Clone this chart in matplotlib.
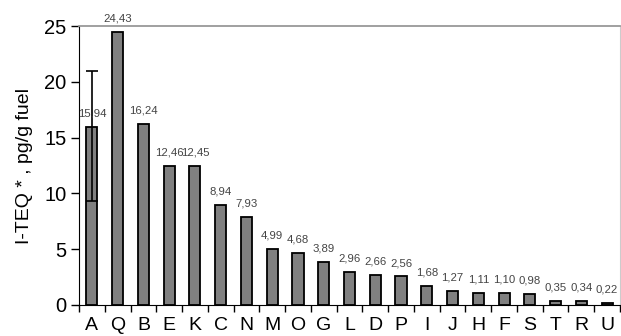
import matplotlib
matplotlib.use("Agg")
import matplotlib.pyplot as plt
import numpy as np

categories = ["A","Q","B","E","K","C","N","M","O","G","L","D","P","I","J","H","F","S","T","R","U"]
values = [15.94,24.43,16.24,12.46,12.45,8.94,7.93,4.99,4.68,3.89,2.96,2.66,2.56,1.68,1.27,1.11,1.10,0.98,0.35,0.34,0.22]
labels = ["15,94","24,43","16,24","12,46","12,45","8,94","7,93","4,99","4,68","3,89","2,96","2,66","2,56","1,68","1,27","1,11","1,10","0,98","0,35","0,34","0,22"]
err_low = [9.3]
err_high = [21.0]

plt.rcParams['font.family'] = ['Liberation Sans', 'DejaVu Sans']
fig = plt.figure(figsize=(6.21, 3.36), dpi=100)
ax = fig.add_axes([79/621, 31/336, 541/621, 279/336])

x = np.arange(len(categories))
ax.bar(x, values, width=0.43, color='#808080', edgecolor='black', linewidth=1.3, zorder=2)

# error bar on A
ax.errorbar([0], [values[0]], yerr=[[values[0]-err_low[0]], [err_high[0]-values[0]]],
            fmt='none', ecolor='black', elinewidth=1.2, capsize=4.5, capthick=1.2, zorder=3)

for xi, v, lab in zip(x, values, labels):
    ax.text(xi, v + 0.75, lab, ha='center', va='bottom', fontsize=8.2, color='#444444')

ax.set_xlim(-0.5, len(categories) - 0.5)
ax.set_ylim(0, 25)
ax.set_yticks([0, 5, 10, 15, 20, 25])
ax.tick_params(axis='y', labelsize=14.5, length=6, direction='out', width=1, pad=3)
ax.set_xticks(x)
ax.set_xticklabels(categories, fontsize=14)
ax.tick_params(axis='x', length=0, pad=8.5)
ax.set_xticks(np.arange(len(categories) + 1) - 0.5, minor=True)
ax.tick_params(axis='x', which='minor', length=5, width=1, direction='out')

ax.spines['left'].set_color('black')
ax.spines['bottom'].set_color('black')
ax.spines['top'].set_color('#999999')
ax.spines['right'].set_color('#cccccc')
ax.spines['top'].set_linewidth(1.3)

ax.set_ylabel('I-TEQ * , pg/g fuel', fontsize=14, labelpad=8)

fig.savefig('out.png', dpi=100)
